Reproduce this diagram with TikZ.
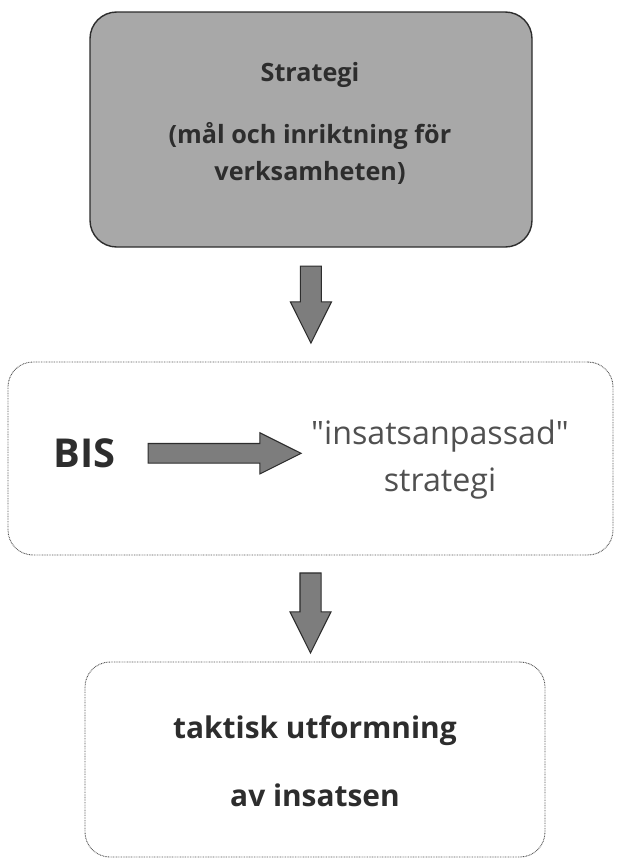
\documentclass[tikz,border=0pt]{standalone}
\usepackage{fontspec}
\setmainfont{Open Sans}[Ligatures=TeXOff]
\usetikzlibrary{positioning,shapes.arrows}

\definecolor{boxgray}{RGB}{168,168,168}
\definecolor{arrowgray}{RGB}{125,125,125}
\definecolor{inkgray}{RGB}{45,45,45}
\definecolor{softink}{RGB}{80,80,80}
\definecolor{dotgray}{RGB}{85,85,85}

\tikzset{
  stratbox/.style={draw=inkgray,fill=boxgray,line width=1.2pt,rounded corners=0.8cm},
  dotbox/.style={draw=dotgray,line width=0.8pt,dash pattern=on 0.7pt off 0.7pt,rounded corners=0.75cm},
  boldtext/.style={text=inkgray,font=\bfseries\fontsize{21.5}{31.6}\selectfont,align=center},
  plaintext/.style={text=softink,font=\fontsize{27.5}{40}\selectfont,align=center},
  blockarrow/.style={single arrow,draw=inkgray,fill=arrowgray,line width=0.9pt,
    inner xsep=0pt,inner ysep=0.3cm,single arrow head extend=0.3cm,
    single arrow tip angle=53,single arrow head indent=0pt},
}

\begin{document}
\begin{tikzpicture}
   \useasboundingbox (0,0) rectangle (18.51,-25.8);
   % the three boxes
   \node[stratbox,minimum width=13.26cm,minimum height=7.05cm] (strat) at (9.33,-3.885) {};
   \node[dotbox,minimum width=18.15cm,minimum height=5.79cm] (mid) at (9.315,-13.755) {};
   \node[dotbox,minimum width=13.8cm,minimum height=5.85cm] (low) at (9.45,-22.785) {};
   % texts
   \node[boldtext] (stratname) at (9.3,-2.25) {Strategi};
   \node[boldtext] (stratgoal) at (9.3,-4.605) {(mål och inriktning för\\verksamheten)};
   \node[boldtext,font=\bfseries\fontsize{34}{38}\selectfont] (bis) at (2.535,-13.6) {BIS};
   \node[plaintext] (target) at (13.2,-13.8) {"insatsanpassad"\\strategi};
   \node[boldtext,font=\bfseries\fontsize{25.5}{58}\selectfont] (tactic) at (9.45,-22.83) {taktisk utformning\\av insatsen};
   % block arrows
   \path (strat.south) -- (mid.north) node[blockarrow,pos=0.157,anchor=tail,rotate=-90,minimum height=2.31cm] (arrowA) {};
   \node[blockarrow,right=0.84cm of bis,minimum height=4.59cm,inner ysep=0.28cm,single arrow head extend=0.32cm] (arrowBIS) {};
   \path (mid.south) -- (mid.south |- low.north) node[blockarrow,pos=0.16,anchor=tail,rotate=-90,minimum height=2.4cm] (arrowB) {};
\end{tikzpicture}
\end{document}
